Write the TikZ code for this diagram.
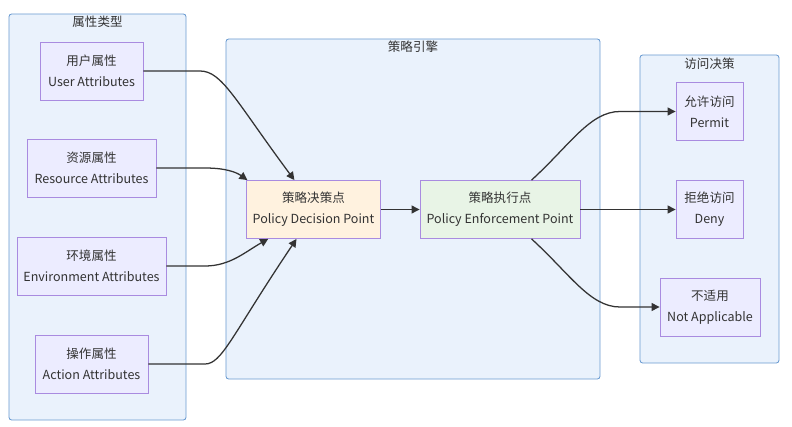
\documentclass[tikz,border=0pt]{standalone}
\usepackage{fontspec}
\setmainfont{Noto Sans CJK SC}
\usetikzlibrary{arrows.meta}
\usetikzlibrary{positioning}
\definecolor{clusterfill}{HTML}{EAF2FC}
\definecolor{clusterline}{HTML}{6A9BD1}
\definecolor{nodefill}{HTML}{ECECFF}
\definecolor{nodeline}{HTML}{A98BE0}
\definecolor{pdpfill}{HTML}{FFF2DF}
\definecolor{pepfill}{HTML}{E8F4E6}
\definecolor{linkcolor}{HTML}{333333}
\tikzset{
cluster/.style = { rectangle, draw = clusterline, fill = clusterfill, rounded corners = 2pt, line width = 0.6pt },
cluster title/.style = { text = linkcolor, inner sep = 0pt },
attr/.style = { rectangle, draw = nodeline, fill = nodefill, minimum height = 1.45cm, align = center, text = linkcolor, line width = 0.6pt },
flow/.style = { draw = linkcolor, line width = 0.9pt, -{Triangle[length = 2mm, width = 2mm]} },
}

\begin{document}
\begin{tikzpicture}[x = 0.025cm, y = -0.025cm, font = \fontsize{8.9}{14.9}\selectfont]
    \useasboundingbox (0, 0) rectangle (792, 427);
    % clusters
    \node[cluster, minimum width = 4.425cm, minimum height = 10.15cm] (attrs) at (97.5, 217) {};
    \node[cluster, minimum width = 9.35cm, minimum height = 8.5cm] (engine) at (413, 209) {};
    \node[cluster, minimum width = 3.475cm, minimum height = 7.7cm] (decision) at (709.5, 209) {};
    \node[cluster title, below = 0.06cm of attrs.north] (attrs title) {属性类型};
    \node[cluster title, below = 0.06cm of engine.north] (engine title) {策略引擎};
    \node[cluster title, below = 0.08cm of decision.north] (decision title) {访问决策};
    % attributes
    \node[attr, minimum width = 2.575cm] (user) at (91.5, 71) {用户属性\\User Attributes};
    \node[attr, minimum width = 3.225cm] (resource) at (91.5, 168) {资源属性\\Resource Attributes};
    \node[attr, minimum width = 3.725cm] (environment) at (91.5, 266) {环境属性\\Environment Attributes};
    \node[attr, minimum width = 2.825cm] (action) at (91.5, 364) {操作属性\\Action Attributes};
    % engine
    \node[attr, fill = pdpfill, minimum width = 3.35cm] (pdp) at (313.5, 209.5) {策略决策点\\Policy Decision Point};
    \node[attr, fill = pepfill, minimum width = 4.0cm] (pep) at (500, 209.5) {策略执行点\\Policy Enforcement Point};
    % decisions
    \node[attr, minimum width = 1.675cm] (permit) at (709.5, 111.5) {允许访问\\Permit};
    \node[attr, minimum width = 1.675cm] (deny) at (709.5, 209.5) {拒绝访问\\Deny};
    \node[attr, minimum width = 2.5cm] (na) at (710, 307) {不适用\\Not Applicable};
    % connectors
    \draw[flow] (user.east) -- (200, 71) .. controls (222, 71) and (235, 100) .. (pdp.123);
    \draw[flow] (resource.east) -- (205, 168) .. controls (225, 168) and (236, 172) .. (pdp.156);
    \draw[flow] (environment.east) -- (205, 266) .. controls (230, 266) and (245, 252) .. (pdp.213);
    \draw[flow] (action.east) -- (205, 364) .. controls (222, 364) and (232, 335) .. (pdp.240);
    \draw[flow] (pdp) -- (pep);
    \draw[flow] (pep.43) .. controls (570, 145) and (590, 111.5) .. (620, 111.5) -- (permit.west);
    \draw[flow] (pep) -- (deny);
    \draw[flow] (pep.-43) .. controls (570, 274) and (590, 307) .. (620, 307) -- (na.west);
\end{tikzpicture}
\end{document}
